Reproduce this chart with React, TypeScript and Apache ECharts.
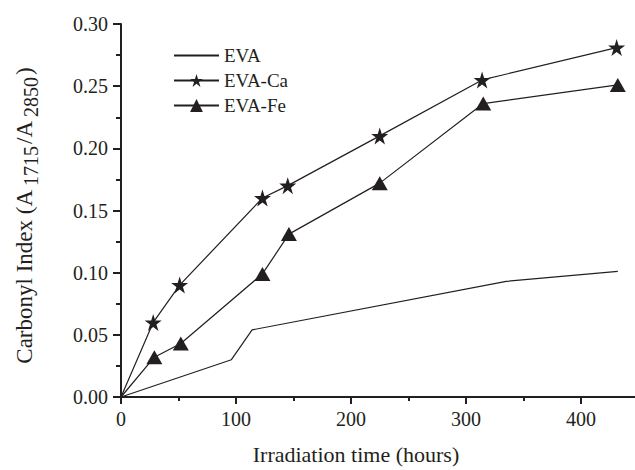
import React, { useEffect, useRef } from "react";
import * as echarts from "echarts";

const hoursEVA = [0, 96, 114, 335, 432];
const valuesEVA = [0, 0.03, 0.054, 0.093, 0.101];

const hoursCa = [0, 28, 51, 123, 145, 225, 314, 431];
const valuesCa = [0, 0.06, 0.09, 0.16, 0.17, 0.21, 0.255, 0.281];

const hoursFe = [0, 29, 52, 123, 146, 225, 315, 432];
const valuesFe = [0, 0.032, 0.043, 0.099, 0.131, 0.172, 0.236, 0.251];

const seriesNames = ["EVA", "EVA-Ca", "EVA-Fe"];
const yTicks = [0, 0.05, 0.1, 0.15, 0.2, 0.25, 0.3];
const xTickLabels = [0, 100, 200, 300, 400];

const INK = "#231f20";
const FONT = "Liberation Serif";
const STAR =
  "path://M50,0 L61.2,34.5 L97.6,34.5 L68.2,55.9 L79.4,90.5 L50,69.1 L20.6,90.5 L31.8,55.9 L2.4,34.5 L38.8,34.5 Z";

function pairs(xs: number[], ys: number[]) {
  return xs.map((x, i) => {
    const p: any = { value: [x, ys[i]] };
    if (x === 0) p.symbol = "none";
    return p;
  });
}

export default function App() {
  const ref = useRef<HTMLDivElement>(null);
  useEffect(() => {
    if (!ref.current) return;
    const chart = echarts.init(ref.current, undefined, { renderer: "svg" });
    const lineStyle = { color: INK, width: 1.2 };
    chart.setOption({
      animation: false,
      backgroundColor: "#ffffff",
      grid: { left: 121, top: 24, width: 575, height: 377.5, containLabel: false },
      legend: {
        left: 168,
        top: 41,
        orient: "vertical",
        itemWidth: 45,
        itemHeight: 16,
        itemGap: 6,
        data: [
          { name: seriesNames[0], itemStyle: { opacity: 0 } },
          { name: seriesNames[1] },
          { name: seriesNames[2] },
        ],
        textStyle: { fontFamily: FONT, fontSize: 19, color: INK },
      },
      xAxis: {
        type: "value",
        min: 0,
        max: 500,
        interval: 100,
        name: "Irradiation time (hours)",
        nameLocation: "middle",
        nameGap: 46,
        nameTextStyle: {
          fontFamily: FONT,
          fontSize: 22,
          color: INK,
          padding: [0, 105, 0, 0],
        },
        axisLine: { show: true, lineStyle: { color: INK, width: 2 } },
        axisTick: { show: true, length: 7, lineStyle: { color: INK, width: 2 } },
        minorTick: { show: true, splitNumber: 2, length: 4, lineStyle: { color: INK, width: 2 } },
        splitLine: { show: false },
        axisLabel: {
          margin: 12,
          fontFamily: FONT,
          fontSize: 20,
          color: INK,
          formatter: (v: number) => (xTickLabels.includes(v) ? String(v) : ""),
        },
      },
      yAxis: {
        type: "value",
        min: yTicks[0],
        max: yTicks[yTicks.length - 1],
        interval: 0.05,
        name: "{m|Carbonyl Index (A}{s|1715}{m|/A}{s|2850}{m|)}",
        nameLocation: "middle",
        nameRotate: 90,
        nameGap: 80,
        nameTextStyle: {
          fontFamily: FONT,
          fontSize: 23,
          color: INK,
          padding: [0, 10, 0, 0],
          rich: {
            m: { fontFamily: FONT, fontSize: 23, color: INK },
            s: {
              fontFamily: FONT,
              fontSize: 20,
              color: INK,
              verticalAlign: "bottom",
              padding: [13, 2, 0, 4],
            },
          },
        },
        axisLine: { show: true, lineStyle: { color: INK, width: 2 } },
        axisTick: { show: true, length: 8, lineStyle: { color: INK, width: 2 } },
        minorTick: { show: true, splitNumber: 2, length: 5, lineStyle: { color: INK, width: 2 } },
        splitLine: { show: false },
        axisLabel: {
          margin: 13,
          fontFamily: FONT,
          fontSize: 20,
          color: INK,
          formatter: (v: number) => v.toFixed(2),
        },
      },
      series: [
        {
          name: seriesNames[0],
          type: "line",
          data: pairs(hoursEVA, valuesEVA),
          symbol: "none",
          lineStyle,
          itemStyle: { color: INK },
        },
        {
          name: seriesNames[1],
          type: "line",
          data: pairs(hoursCa, valuesCa),
          symbol: STAR,
          symbolSize: [17, 17],
          showAllSymbol: true,
          lineStyle,
          itemStyle: { color: INK },
        },
        {
          name: seriesNames[2],
          type: "line",
          data: pairs(hoursFe, valuesFe),
          symbol: "triangle",
          symbolSize: [16, 14],
          showAllSymbol: true,
          lineStyle,
          itemStyle: { color: INK },
        },
      ],
    });
    return () => chart.dispose();
  }, []);
  return (
    <div
      ref={ref}
      style={{ position: "fixed", left: 0, top: 0, width: 700, height: 470, background: "#fff" }}
    />
  );
}
